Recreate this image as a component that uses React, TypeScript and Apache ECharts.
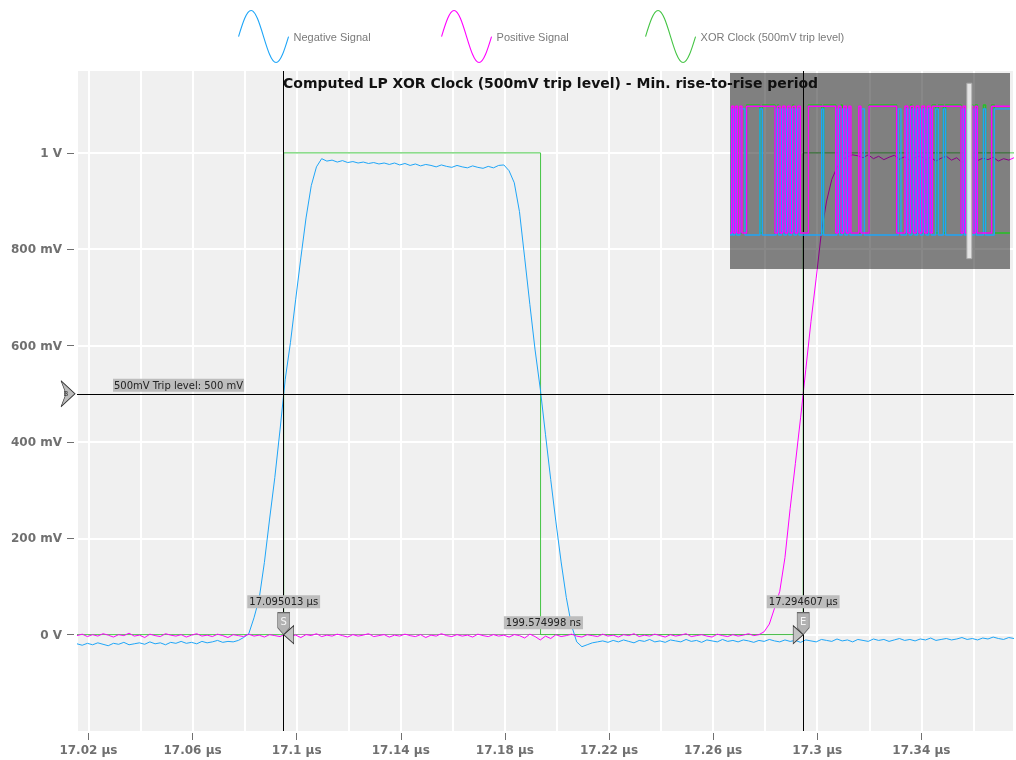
import React, { useEffect, useRef } from 'react';
import * as echarts from 'echarts';

// ---------- main view (µs, volts) ----------
const xMin = 17.0156;
const xMax = 17.3756;
const yMin = -0.2;
const yMax = 1.17;
const sampleStart = 17.0156; // µs, first sample
const sampleStep = 0.002; // µs between samples

// Negative Signal, mV per sample
const negativeSignalMv = [
  -19, -22, -18, -21, -17, -20, -23, -18, -20, -16, -21, -19, -17, -20, -15, -19, -17, -21, -16, -18,
  -14, -18, -16, -19, -14, -17, -15, -12, -16, -14, -15,
  -12, -6, 2, 35, 75, 150, 240, 326, 425, 530, 606, 695, 782, 865, 932, 971, 988,
  983, 985, 981, 984, 980, 982, 979, 981, 978, 980, 977, 979, 976, 979, 975, 978, 974, 977, 973, 976,
  974, 971, 975, 972, 970, 974, 971, 969, 973, 970, 968, 972, 969, 974, 975,
  963, 938, 878, 782, 685, 591, 510, 415, 322, 234, 151, 77, 19, -15, -25, -21, -17, -15,
  -13, -16, -12, -15, -11, -14, -17, -12, -14, -10, -15, -13, -16, -11, -13, -15, -10, -14, -12, -16,
  -11, -13, -15, -10, -14, -12, -15, -11, -13, -16, -12, -14, -10, -13, -15, -11, -14, -12, -16, -11,
  -13, -15, -10, -12, -14, -9, -13, -11, -15, -10, -12, -14, -9, -12, -10, -14, -11, -8, -12, -10,
  -13, -9, -11, -7, -12, -10, -8, -11, -9, -6, -10, -8, -11, -7, -9, -5, -8, -10, -6, -8,
];

// Positive Signal, mV per sample
const positiveSignalMv = [
  -2, 1, -4, 0, -3, 2, -1, -5, 0, -2, 3, -3, -1, -6, 1, -2, -4, 2, -1, -3,
  0, -5, -1, 2, -3, -1, -4, 1, -2, -6, 0, -2, -4, 1, -3, -1, -5, 0, -2, -4,
  1, -3, -1, -6, 0, -2, 2, -4, -1, -3, 1, -2, -5, 0, -3, -1, 2, -4, -2, 0,
  -5, -1, -3, 1, -2, -4, 0, -6, -1, -3, 2, -2, -4, 0, -3, -1, -5, 1, -2, -4,
  0, -3, -1, -5, 0, -2, -7, 1, -4, -11, -3, -8, 0, -4, -2, 1, -3, -5, 0, -2,
  -4, 1, -3, -1, -5, 0, -2, 2, -4, -1, -3, 1, -2, -5, 0, -3, -1, 2, -4, -2,
  0, -3, -5, 1, -2, -4, 0, -3, -1, 2, -2, 0,
  6, 22, 55, 90, 160, 262, 355, 450, 550, 650, 740, 835, 900, 945, 970, 985, 992, 996,
  994, 990, 996, 988, 993, 986, 991, 995, 987, 992, 984, 990, 994, 986, 991, 983, 989, 993, 985, 990,
  980, 988, 992, 984, 989, 986, 991, 983, 988, 985, 990,
];

// XOR Clock (computed), step trace
const xorClockTimes = [17.0156, 17.095013, 17.1937, 17.294607, 17.3756];
const xorClockVolts = [0, 1, 0, 1, 1];

// cursors / measurement
const cursorTimes = [17.095013, 17.294607];
const cursorLabels = ['17.095013 µs', '17.294607 µs'];
const cursorTags = ['S', 'E'];
const deltaLabel = '199.574998 ns';
const tripLevel = 0.5;
const tripLabel = '500mV Trip level: 500 mV';

// axis labels
const xLabelValues = [17.02, 17.06, 17.1, 17.14, 17.18, 17.22, 17.26, 17.3, 17.34];
const yLabelValues = [0, 0.2, 0.4, 0.6, 0.8, 1];

// ---------- overview inset (µs, volts) ----------
const overviewMin = 0.1;
const overviewMax = 20.1;
const overviewPositiveEdges = [
  0.22, 0.36, 0.5, 0.64, 0.8, 0.95, 1.29,
  3.31, 3.5, 3.68, 3.86, 4.04, 4.22, 4.4, 4.58, 4.76, 4.94, 5.12, 5.7,
  7.65, 7.84, 8.03, 8.22, 8.41, 8.6, 8.74, 9.3, 9.45, 10.03,
  12.0, 12.6, 12.8, 13.0, 13.2, 13.4, 13.6, 13.8, 14.0, 14.2, 14.4, 14.55,
  16.6, 16.76, 16.92, 17.29, 17.45, 17.62, 17.77, 18.79,
];
const overviewPositiveLevels = [0, 0.99];
const overviewNegativeEdges = [
  0.2, 0.28, 0.43, 0.57, 0.81, 1.17, 2.24, 2.41,
  3.4, 3.58, 3.77, 3.95, 4.13, 4.31, 4.49, 4.67, 4.85, 5.03, 6.65, 6.79,
  7.74, 7.93, 8.12, 8.31, 8.5, 8.67, 9.5, 9.7,
  12.12, 12.31, 12.7, 12.9, 13.1, 13.3, 13.5, 13.7, 13.9, 14.1, 14.3, 14.48,
  14.79, 14.98, 15.34, 15.5,
  16.68, 16.84, 16.96, 17.0, 17.095, 17.194, 17.53, 17.69, 18.2, 18.36, 18.98,
];
const overviewNegativeLevels = [-0.015, 0.97];
const overviewXorEdges = [
  1.29, 2.24, 2.41, 3.31, 3.5, 3.58, 4.58, 4.67, 5.7, 6.65, 6.79, 7.65, 8.03, 8.12, 10.03, 12.0,
  13.0, 13.1, 14.55, 14.79, 14.98, 15.34, 15.5, 16.6, 17.095, 17.194, 17.29, 17.45, 17.62, 17.77,
  18.2, 18.36, 18.79, 18.98,
];
const overviewXorLevels = [0, 1.0];

// ---------- styles ----------
const BLUE = '#1ea5f7';
const PINK = '#ff00ff';
const GREEN = '#44c444';
const GREEN_INSET = '#22c422';
const AXIS_TEXT = '#707070';

const SINE_PATH =
  'path://M0 10 C5.123 4.877 10.023 0 15.708 0 C21.393 0 26.293 4.877 31.416 10 C36.539 15.123 41.439 20 47.124 20 C52.809 20 57.709 15.123 62.832 10';
const TAG_PATH = 'path://M0 0 L12 0 L12 15 L6 22 L0 15 Z';
const TRIP_PATH = 'path://M0 0 L14 13 L0 26 L5 13 Z';

const INSET = { left: 730, top: 73, width: 280, height: 196 };

function toSamples(mv: number[]) {
  return mv.map((v, i) => [sampleStart + i * sampleStep, v / 1000]);
}

function toSteps(edges: number[], levels: number[]) {
  let state = 0;
  const pts: number[][] = [[overviewMin, levels[0]]];
  for (const e of edges) {
    state = 1 - state;
    pts.push([e, levels[state]]);
  }
  pts.push([overviewMax, levels[state]]);
  return pts;
}

function yFormat(v: number) {
  if (Math.abs(v) < 1e-9) return '0 V';
  if (v >= 1) return `${+v.toFixed(2)} V`;
  return `${Math.round(v * 1000)} mV`;
}

const smallLabel = {
  fontSize: 10,
  fontFamily: 'DejaVu Sans',
  color: '#222',
  backgroundColor: '#bdbdbd',
  padding: [2, 2, 1, 2],
};

function buildOption() {
  const legendText = { fontSize: 11, color: '#7a7a7a', fontFamily: 'Liberation Sans' };
  const legendBase = {
    top: 10,
    padding: 0,
    itemWidth: 50,
    itemHeight: 52,
    icon: SINE_PATH,
    symbolKeepAspect: false,
    textStyle: legendText,
    selectedMode: false,
  };
  const legends = [
    { name: 'Negative Signal', color: BLUE, left: 238 },
    { name: 'Positive Signal', color: PINK, left: 441 },
    { name: 'XOR Clock (500mV trip level)', color: GREEN, left: 645 },
  ].map((l) => ({
    ...legendBase,
    left: l.left,
    data: [
      {
        name: l.name,
        itemStyle: { color: 'transparent', borderColor: l.color, borderWidth: 1.1 },
      },
    ],
  }));

  const cursorPoints: any[] = [];
  cursorTimes.forEach((t, i) => {
    cursorPoints.push({
      coord: [t, 0],
      symbol: 'rect',
      symbolSize: 1,
      itemStyle: { color: 'rgba(0,0,0,0)' },
      label: { show: true, position: 'inside', offset: [0, -33], formatter: cursorLabels[i], ...smallLabel },
    });
  });
  cursorPoints.push({
    coord: [(cursorTimes[0] + cursorTimes[1]) / 2, 0],
    symbol: 'rect',
    symbolSize: 1,
    itemStyle: { color: 'rgba(0,0,0,0)' },
    label: { show: true, position: 'inside', offset: [0, -12], formatter: deltaLabel, ...smallLabel },
  });
  cursorTimes.forEach((t, i) => {
    cursorPoints.push({
      coord: [t, 0],
      symbol: TAG_PATH,
      symbolSize: [12, 22],
      symbolOffset: [0, -11],
      symbolKeepAspect: false,
      itemStyle: { color: '#b2b2b2', borderColor: '#666', borderWidth: 0.8 },
      label: {
        show: true,
        position: 'inside',
        offset: [0, -2],
        formatter: cursorTags[i],
        color: '#f6f6f6',
        fontSize: 10,
        fontFamily: 'DejaVu Sans',
      },
    });
  });
  cursorTimes.forEach((t, i) => {
    cursorPoints.push({
      coord: [t, 0],
      symbol: 'triangle',
      symbolSize: [18, 10],
      symbolRotate: i === 0 ? 90 : -90,
      symbolOffset: [i === 0 ? 5 : -5, 0],
      itemStyle: { color: '#c4c4c4', borderColor: '#333', borderWidth: 0.8 },
      label: { show: false },
    });
  });
  cursorPoints.push({
    coord: [xMin, tripLevel],
    symbol: TRIP_PATH,
    symbolSize: [14, 26],
    symbolOffset: [-9, 0],
    symbolKeepAspect: false,
    itemStyle: { color: '#bdbdbd', borderColor: '#333', borderWidth: 0.8 },
    label: {
      show: true,
      position: 'inside',
      offset: [-2, 0],
      formatter: 'B',
      color: '#333',
      fontSize: 7,
      fontFamily: 'DejaVu Sans',
    },
  });

  const mainLine = (name: string, data: any, color: string, extra: any = {}) => ({
    type: 'line',
    name,
    xAxisIndex: 0,
    yAxisIndex: 0,
    data,
    showSymbol: false,
    symbol: 'none',
    z: 2,
    silent: true,
    lineStyle: { color, width: 1 },
    itemStyle: { color },
    emphasis: { disabled: true },
    ...extra,
  });

  const insetLine = (name: string, data: any, color: string, extra: any = {}) => ({
    type: 'line',
    name,
    xAxisIndex: 2,
    yAxisIndex: 1,
    data,
    step: 'end',
    showSymbol: false,
    symbol: 'none',
    z: 10,
    silent: true,
    lineStyle: { color, width: 1.4 },
    itemStyle: { color },
    emphasis: { disabled: true },
    ...extra,
  });

  return {
    animation: false,
    title: {
      text: 'Computed LP XOR Clock (500mV trip level) - Min. rise-to-rise period',
      left: 283,
      top: 76,
      padding: 0,
      z: 30,
      textStyle: { fontSize: 14, fontWeight: 'bold', color: '#111', fontFamily: 'DejaVu Sans' },
    },
    legend: legends,
    graphic: [
      {
        type: 'rect',
        silent: true,
        z: 5,
        shape: { x: INSET.left, y: INSET.top, width: INSET.width, height: INSET.height },
        style: { fill: 'rgba(0,0,0,0.467)' },
      },
    ],
    grid: [
      {
        left: 77,
        right: 2,
        top: 71,
        bottom: 29,
        show: true,
        backgroundColor: '#f0f0f0',
        borderWidth: 0,
      },
      { left: INSET.left, top: INSET.top, width: INSET.width, height: INSET.height, show: false },
    ],
    xAxis: [
      {
        type: 'value',
        gridIndex: 0,
        min: xMin,
        max: xMax,
        splitNumber: 18,
        axisLine: { show: false },
        axisTick: { show: false },
        axisLabel: { show: false },
        splitLine: { show: true, lineStyle: { color: '#ffffff', width: 2 } },
      },
      {
        type: 'value',
        gridIndex: 0,
        position: 'bottom',
        min: xMin,
        max: xMax,
        offset: 2,
        axisLine: { show: false },
        axisTick: {
          show: true,
          length: 7,
          customValues: xLabelValues,
          lineStyle: { color: AXIS_TEXT, width: 1 },
        },
        axisLabel: {
          show: true,
          customValues: xLabelValues,
          margin: 11,
          color: AXIS_TEXT,
          fontSize: 12,
          fontWeight: 'bold',
          fontFamily: 'DejaVu Sans',
          formatter: (v: number) => `${+v.toFixed(2)} µs`,
        },
        splitLine: { show: false },
      },
      { type: 'value', gridIndex: 1, min: overviewMin, max: overviewMax, show: false },
    ],
    yAxis: [
      {
        type: 'value',
        gridIndex: 0,
        min: yMin,
        max: yMax,
        interval: 0.2,
        offset: 3,
        axisLine: { show: false },
        axisTick: {
          show: true,
          length: 7,
          customValues: yLabelValues,
          lineStyle: { color: AXIS_TEXT, width: 1 },
        },
        axisLabel: {
          show: true,
          customValues: yLabelValues,
          margin: 12,
          color: AXIS_TEXT,
          fontSize: 12,
          fontWeight: 'bold',
          fontFamily: 'DejaVu Sans',
          formatter: yFormat,
        },
        splitLine: { show: true, lineStyle: { color: '#ffffff', width: 2 } },
      },
      { type: 'value', gridIndex: 1, min: -0.281, max: 1.25, show: false },
    ],
    series: [
      {
        type: 'line',
        name: 'measure',
        xAxisIndex: 0,
        yAxisIndex: 0,
        data: [],
        silent: true,
        markLine: {
          z: 1,
          silent: true,
          animation: false,
          precision: 6,
          symbol: ['none', 'none'],
          label: { show: false },
          lineStyle: { color: '#9a9a9a', width: 1, type: 'solid' },
          data: [[{ coord: [cursorTimes[0], 0] }, { coord: [cursorTimes[1], 0] }]],
        },
      },
      mainLine(
        'XOR Clock (500mV trip level)',
        xorClockTimes.map((t, i) => [t, xorClockVolts[i]]),
        GREEN,
        { step: 'end' }
      ),
      mainLine('Negative Signal', toSamples(negativeSignalMv), BLUE),
      mainLine('Positive Signal', toSamples(positiveSignalMv), PINK),
      {
        type: 'line',
        name: 'cursors',
        xAxisIndex: 0,
        yAxisIndex: 0,
        data: [],
        silent: true,
        clip: false,
        markLine: {
          z: 6,
          silent: true,
          animation: false,
          precision: 6,
          symbol: ['none', 'none'],
          label: { show: false },
          lineStyle: { color: '#000', width: 1, type: 'solid' },
          emphasis: { disabled: true },
          data: [
            [{ coord: [cursorTimes[0], yMin] }, { coord: [cursorTimes[0], yMax] }],
            [{ coord: [cursorTimes[1], yMin] }, { coord: [cursorTimes[1], yMax] }],
            {
              yAxis: tripLevel,
              label: {
                show: true,
                position: 'insideStartTop',
                distance: [36, 2],
                formatter: tripLabel,
                ...smallLabel,
                padding: [2, 1, 1, 1],
              },
            },
          ],
        },
        markPoint: {
          z: 7,
          silent: true,
          animation: false,
          data: cursorPoints,
        },
      },
      insetLine('XOR Clock (500mV trip level)', toSteps(overviewXorEdges, overviewXorLevels), GREEN_INSET),
      insetLine('Negative Signal', toSteps(overviewNegativeEdges, overviewNegativeLevels), BLUE),
      insetLine('Positive Signal', toSteps(overviewPositiveEdges, overviewPositiveLevels), PINK, {
        markArea: {
          z: 20,
          silent: true,
          animation: false,
          itemStyle: { color: 'rgba(238,238,238,0.9)', borderColor: '#a8a8a8', borderWidth: 1 },
          data: [[{ coord: [xMin, yMin] }, { coord: [xMax, yMax] }]],
        },
      }),
    ],
  };
}

export default function App() {
  const ref = useRef<HTMLDivElement>(null);
  useEffect(() => {
    if (!ref.current) return;
    const chart = echarts.init(ref.current, undefined, { renderer: 'svg' });
    chart.setOption(buildOption() as any);
    return () => chart.dispose();
  }, []);
  return (
    <div
      ref={ref}
      style={{ position: 'fixed', left: 0, top: 0, width: 1016, height: 760 }}
    />
  );
}
